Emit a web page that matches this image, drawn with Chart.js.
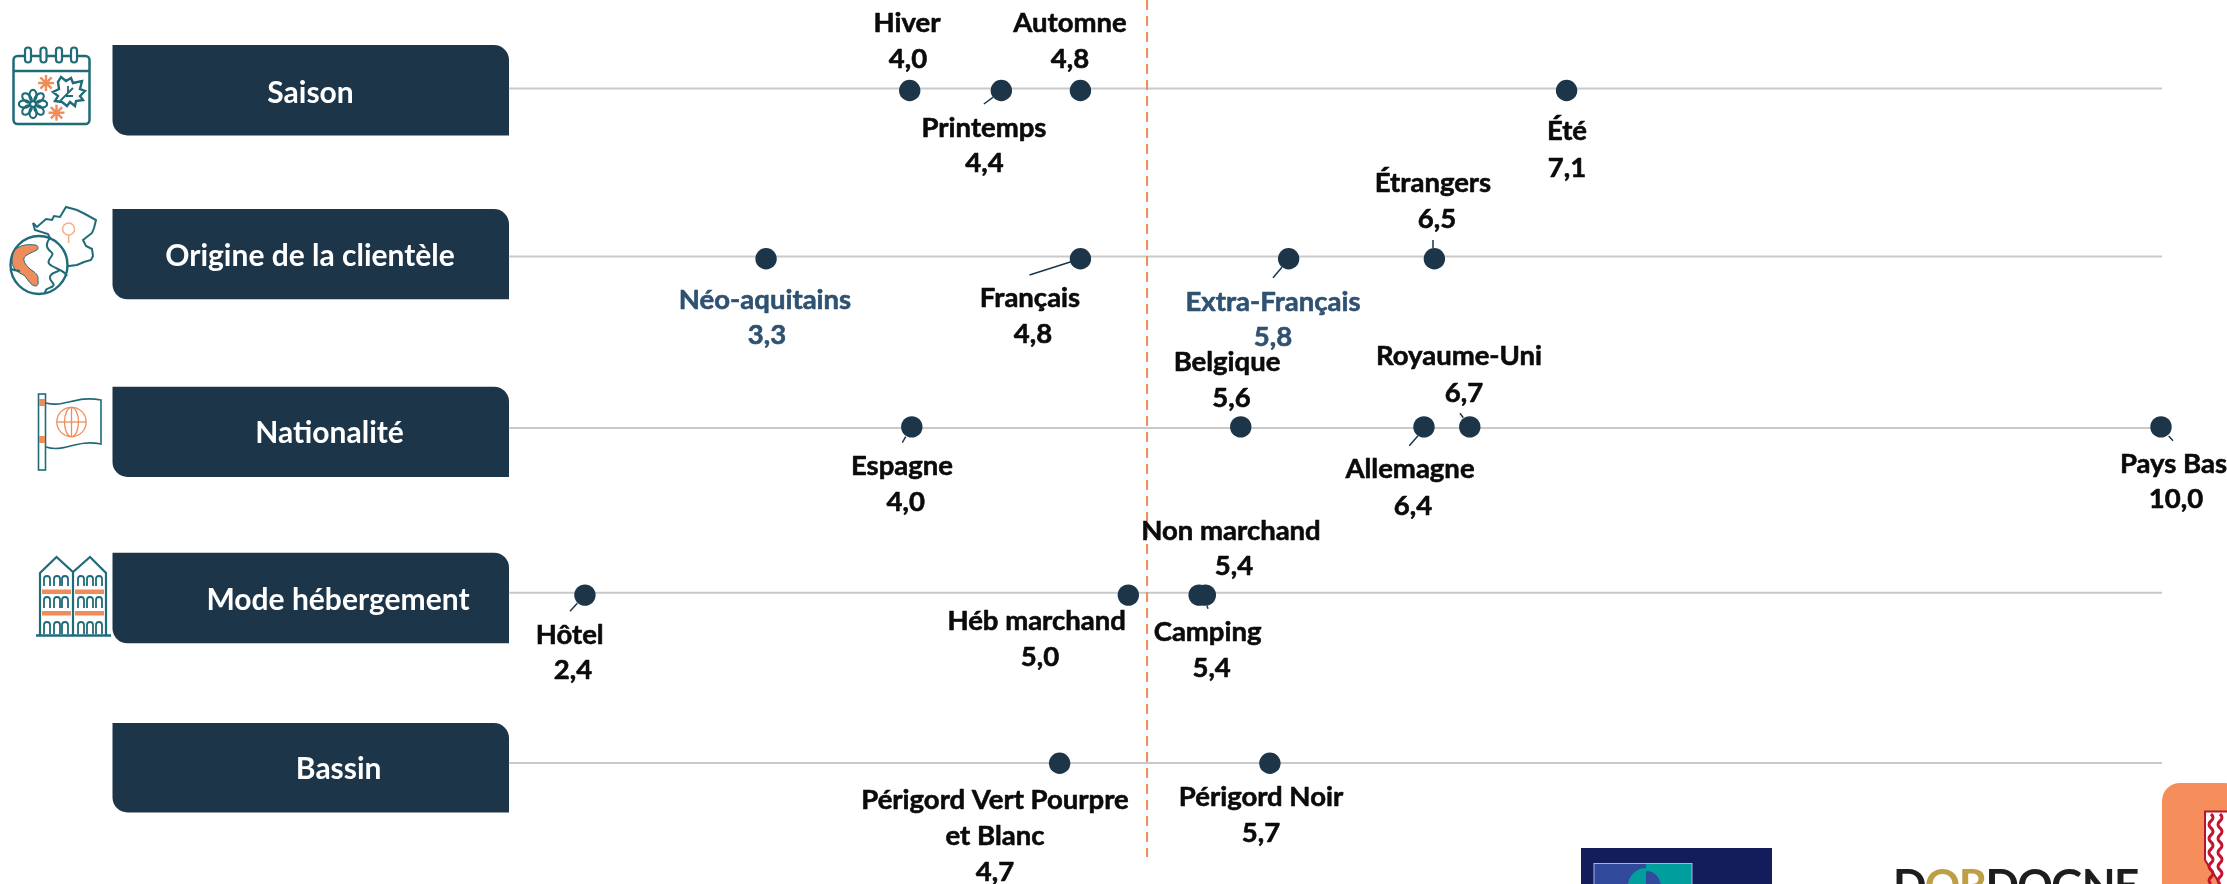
<!DOCTYPE html>
<html lang="fr"><head><meta charset="utf-8">
<title>Saisons et clientèles</title>
<script src="https://cdn.jsdelivr.net/npm/chart.js@4"></script>
<style>
html,body{margin:0;padding:0;background:#fff;overflow:hidden}
#wrap{position:relative;width:2227px;height:884px}
canvas{position:absolute;left:0;top:0}
svg{position:absolute;left:0;top:0;pointer-events:none}
</style></head><body>
<div id="wrap"><canvas id="c" width="2227" height="884"></canvas>
<svg id="icons" width="2227" height="884" viewBox="0 0 2227 884"></svg></div>
<script>
// ---------- Data ----------
const rowNames   = ['Saison','Origine de la clientèle','Nationalité','Mode hébergement','Bassin'];
const saisonCats = ['Hiver','Printemps','Automne','Été'];
const saisonVals = [3.99,4.43,4.81,7.145];
const saisonText = ['4,0','4,4','4,8','7,1'];
const origineCats = ['Néo-aquitains','Français','Extra-Français','Étrangers'];
const origineVals = [3.30,4.81,5.81,6.51];
const origineText = ['3,3','4,8','5,8','6,5'];
const natCats = ['Espagne','Belgique','Allemagne','Royaume-Uni','Pays Bas'];
const natVals = [4.00,5.58,6.46,6.68,10.0];
const natText = ['4,0','5,6','6,4','6,7','10,0'];
const hebCats = ['Hôtel','Héb marchand','Non marchand','Camping'];
const hebVals = [2.43,5.04,5.38,5.41];
const hebText = ['2,4','5,0','5,4','5,4'];
const bassinCats = [['Périgord Vert Pourpre','et Blanc'],['Périgord Noir']];
const bassinVals = [4.71,5.72];
const bassinText = ['4,7','5,7'];
const referenceValue = 5.13;

// ---------- Styling / layout (not data) ----------
const NAVY='#1d3549', BLUE='#2f5272', ORANGE='#f08c5a', TEAL='#1f6b78', RAIL='#c9c9c9';
const X0=-79/208.2, X1=(2227-79)/208.2;
const Y0=-90.5/168.2, Y1=(884-90.5)/168.2;
const railFrom=2.065, railTo=10.005;
const railRowY=[-0.012,0.987,2.006,2.986,3.998];
const refTop=Y0, refBottom=4.557;

const LABEL_FONT='bold 27.5px Lato, sans-serif';
const BOX_FONT='bold 30px Lato, sans-serif';
// text anchors: [text, x, y, colour]
const textLayout=[
 [saisonCats[0],907,23],[saisonText[0],908,59],
 [saisonCats[2],1070,23],[saisonText[2],1070,59],
 [saisonCats[1],984,128],[saisonText[1],984.5,163],
 [saisonCats[3],1567,131.5],[saisonText[3],1567,168],
 [origineCats[3],1433,183],[origineText[3],1437,219],
 [origineCats[0],765,300,BLUE],[origineText[0],767,335,BLUE],
 [origineCats[1],1030,298],[origineText[1],1033,334],
 [origineCats[2],1273,302,BLUE],[origineText[2],1273,337,BLUE],
 [natCats[1],1227,362],[natText[1],1231.5,398],
 [natCats[3],1459,356.5],[natText[3],1464,393],
 [natCats[0],902,466],[natText[0],905.7,501.7],
 [natCats[2],1410,469],[natText[2],1413,505.7],
 [natCats[4],2173.5,464],[natText[4],2176,499.3],
 [hebCats[2],1231,530.7],[hebText[2],1234,566],
 [hebCats[1],1036.6,620.7],[hebText[1],1040,657],
 [hebCats[3],1207.6,632],[hebText[3],1211.6,668],
 [hebCats[0],569.7,635],[hebText[0],573,670],
 [bassinCats[0][0],995,800],[bassinCats[0][1],995,836],[bassinText[0],995,872],
 [bassinCats[1][0],1261,797],[bassinText[1],1261,833]
];
const leaders=[[992.9,97.3,983.9,104],[1071,261.7,1029.5,275],[1282,267.3,1273,277.7],[1433,240,1433,248],
 [1418,435.7,1409.3,445.7],[1463.3,417.7,1460,413.3],[905.7,436.7,902.3,442.7],[577.3,603.3,570,611.3],
 [2168.7,436,2173,440.7],[1207,606,1208,608.7]];
const boxes=[[45,135.5,310.5,93],[209,299.3,310,256],[386.7,477,329.6,433.5],[552.7,643.3,338,600],[723,812.5,338.7,769.5]];

const overlay={
 id:'overlay',
 beforeDatasetsDraw(ch){
  const c=ch.ctx; c.save();
  // row title boxes
  boxes.forEach(b=>{
    c.fillStyle=NAVY; c.beginPath();
    c.roundRect(112.5,b[0],396.5,b[1]-b[0],[0,15,0,15]); c.fill();
  });
  // logos, cut by the edge of the picture
  c.fillStyle='#131d5c'; c.fillRect(1581,848,191,36);
  c.fillStyle='#324a9c'; c.fillRect(1594,863.5,52,21);
  c.fillStyle='#009e9c'; c.fillRect(1646,863.5,46,21);
  c.strokeStyle='#aab4d8'; c.lineWidth=1; c.strokeRect(1594,863.5,98,21);
  c.fillStyle='#009e9c'; c.beginPath(); c.arc(1646,886,18,Math.PI,1.5*Math.PI); c.lineTo(1646,886); c.fill();
  c.fillStyle='#324a9c'; c.beginPath(); c.arc(1646,886,15,1.5*Math.PI,2*Math.PI); c.lineTo(1646,886); c.fill();
  c.fillStyle='#f68e5b'; c.beginPath(); c.roundRect(2162,783,80,120,18); c.fill();
  c.fillStyle='#fff'; c.strokeStyle='#b5132e'; c.lineWidth=2;
  c.beginPath(); c.moveTo(2205,811.5); c.lineTo(2230,811.5); c.lineTo(2230,900); c.lineTo(2205,860); c.closePath(); c.fill(); c.stroke();
  c.strokeStyle='#c4122f'; c.lineWidth=3;
  [2211,2220].forEach(x=>{c.beginPath();c.moveTo(x,814);
    for(let y=814;y<884;y+=14){c.quadraticCurveTo(x+4,y+3.5,x,y+7);c.quadraticCurveTo(x-4,y+10.5,x,y+14);}c.stroke();});
  c.textBaseline='alphabetic'; c.textAlign='left';
  c.font='bold 44px Lato, sans-serif';
  let x=1893; const by=901;
  const w='DORDOGNE', gold=[1,2];
  for(let i=0;i<w.length;i++){
    c.fillStyle=gold.includes(i)?'#bf9f45':'#1d1d1d';
    c.fillText(w[i],x,by); x+=c.measureText(w[i]).width-1.6;
  }
  c.restore();
 },
 afterDatasetsDraw(ch){
  const c=ch.ctx; c.save();
  c.strokeStyle=NAVY; c.lineWidth=1.5;
  leaders.forEach(l=>{c.beginPath();c.moveTo(l[0],l[1]);c.lineTo(l[2],l[3]);c.stroke();});
  c.textAlign='center'; c.textBaseline='middle'; c.lineJoin='round';
  c.font=BOX_FONT; c.fillStyle='#fff';
  boxes.forEach((b,i)=>c.fillText(rowNames[i],b[2],b[3]));
  c.font=LABEL_FONT; c.lineWidth=0.6;
  textLayout.forEach(t=>{const col=t[3]||'#0b0b0b';c.fillStyle=col;c.strokeStyle=col;c.fillText(t[0],t[1],t[2]);c.strokeText(t[0],t[1],t[2]);});
  c.restore();
 }
};

const dots=(vals,row)=>({type:'scatter',label:rowNames[row],data:vals.map(v=>({x:v,y:row})),
  showLine:false,pointRadius:10.7,pointHoverRadius:10.7,pointBackgroundColor:NAVY,pointBorderWidth:0,order:1,clip:false});
const rails=railRowY.map((y,i)=>({type:'scatter',label:'rail '+i,data:[{x:railFrom,y},{x:railTo,y}],showLine:true,
  borderColor:RAIL,borderWidth:2,pointRadius:0,order:6}));
const refLine={type:'scatter',label:'référence',data:[{x:referenceValue,y:refTop},{x:referenceValue,y:refBottom}],showLine:true,
  borderColor:ORANGE,borderWidth:2,borderDash:[10,6],pointRadius:0,order:4};

new Chart(document.getElementById('c'),{
 type:'scatter',
 data:{datasets:[...rails,refLine,dots(saisonVals,0),dots(origineVals,1),dots(natVals,2),dots(hebVals,3),dots(bassinVals,4)]},
 plugins:[overlay],
 options:{responsive:false,animation:false,devicePixelRatio:1,
  layout:{padding:0,autoPadding:false},
  plugins:{legend:{display:false},tooltip:{enabled:false},title:{display:false}},
  scales:{x:{type:'linear',min:X0,max:X1,display:false},
          y:{type:'linear',min:Y0,max:Y1,reverse:true,display:false}}}
});

// ---------- Pictograms ----------
(function(){
 let s='';
 const st=`stroke="${TEAL}" fill="none"`;
 // calendar
 s+=`<rect x="13.5" y="56" width="76" height="68" rx="4" ${st} stroke-width="2.5"/><line x1="13.5" y1="71" x2="89.5" y2="71" ${st} stroke-width="2.5"/>`;
 [28,43.5,59,74].forEach(x=>s+=`<rect x="${x-3}" y="47.5" width="6" height="15" rx="3" fill="#fff" stroke="${TEAL}" stroke-width="2.2"/>`);
 for(let a=0;a<8;a++)s+=`<ellipse cx="33" cy="95.5" rx="3.6" ry="5.6" transform="rotate(${a*45} 33 104)" ${st} stroke-width="2.2"/>`;
 s+=`<circle cx="33" cy="104" r="2.6" fill="#fff" ${st} stroke-width="1.5"/>`;
 s+=`<path d="M61 77l5 4 5-3 2 5 9-2-2 8 5 2-5 5 3 4-7 1-1 5-5-4-3 4-5-4-7-1 3-5-5-4 6-3-1-7z" ${st} stroke-width="2.4"/><path d="M60 101l13-13M68 93v-7M66 96h7" ${st} stroke-width="1.8"/>`;
 [[46,83],[56.5,112.7]].forEach(p=>{for(let a=0;a<4;a++)s+=`<line x1="${p[0]-8}" y1="${p[1]}" x2="${p[0]+8}" y2="${p[1]}" stroke="${ORANGE}" stroke-width="2.4" transform="rotate(${a*45} ${p[0]} ${p[1]})"/>`;});
 // France outline & pin
 s+=`<path d="M33 223l4 4 9-8 6 1 2-4 6 1 6-10 11 3 8 4 11 6-2 8-2 5-9 7 3 6 6 3 1 7-2 4-7 2-7 3-8 1-6 1" ${st} stroke-width="2"/>`;
 s+=`<path d="M33 223l2 7 13 4 3 6" ${st} stroke-width="2"/>`;
 s+=`<circle cx="68.6" cy="229" r="6" fill="none" stroke="#f6b08e" stroke-width="1.6"/><line x1="68.6" y1="235" x2="68.6" y2="243" stroke="#f6b08e" stroke-width="1.6"/>`;
 // globe
 s+=`<ellipse cx="39" cy="265" rx="28.5" ry="29" fill="#fff" stroke="${TEAL}" stroke-width="2.4"/>`;
 s+=`<path d="M15 250c5-5 12-6 20-5 3 0 4 3 2 5-6 3-12 5-13 8-1 4 3 8 6 11 4 3 8 5 8 9s1 7-2 8c-5 0-8-6-11-10-4-3-13-5-13-15 0-4 1-8 3-11z" fill="${ORANGE}" stroke="${TEAL}" stroke-width="1"/>`;
 s+=`<path d="M50 238c-4 5-4 9-1 12s5 3 2 7-4 6 1 9 13 5 15 10M60 270c-4 3-9 2-10 7s6 6 3 9-8 1-8 8M11 269c3 1 6 2 9 2" ${st} stroke-width="2"/>`;
 // flag
 s+=`<rect x="38.5" y="394" width="7" height="76" fill="#fff" stroke="${TEAL}" stroke-width="1.6"/>`;
 s+=`<rect x="39" y="399" width="6" height="7" fill="${ORANGE}"/><rect x="39" y="436" width="6" height="7" fill="${ORANGE}"/>`;
 s+=`<path d="M46 403c18 5 30-8 55-3v44c-25-5-37 9-55 3" ${st} stroke-width="1.6"/>`;
 s+=`<g stroke="${ORANGE}" fill="none" stroke-width="1.3"><circle cx="71.5" cy="422" r="14.7"/><ellipse cx="71.5" cy="422" rx="7" ry="14.7"/><line x1="57" y1="422" x2="86" y2="422"/><line x1="71.5" y1="407" x2="71.5" y2="437"/></g>`;
 // building
 s+=`<path d="M40 635v-62l16.5-16 16.5 15 17-15 16 16v62M73 572v63" ${st} stroke-width="2.2"/><line x1="36" y1="635.5" x2="111" y2="635.5" ${st} stroke-width="2.6"/>`;
 s+=`<rect x="42" y="589.5" width="29" height="4.5" fill="${ORANGE}"/><rect x="75" y="589.5" width="29" height="4.5" fill="${ORANGE}"/><rect x="42" y="611" width="29" height="4.5" fill="${ORANGE}"/><rect x="75" y="611" width="29" height="4.5" fill="${ORANGE}"/>`;
 [[579,586],[600,608],[625,634]].forEach(r=>[47,57,65,81,90,99].forEach(x=>{
  s+=`<path d="M${x-3} ${r[1]}v-${r[1]-r[0]}a3 3 0 0 1 6 0v${r[1]-r[0]}" ${st} stroke-width="1.8"/>`;}));
 document.getElementById('icons').innerHTML=s;
})();
</script>
</body></html>
